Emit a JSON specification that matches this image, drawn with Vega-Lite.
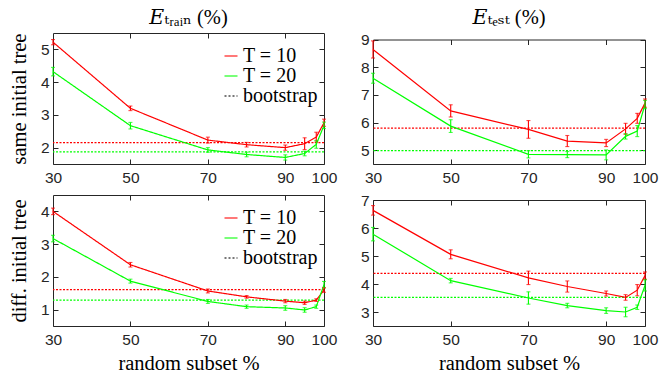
{
  "$schema": "https://vega.github.io/schema/vega-lite/v6.json",
  "padding": {"left": 8, "top": 7, "right": 2, "bottom": 0},
  "datasets": {
    "pts": [
      {"panel": "tl", "series": "T = 10", "x": 30, "v": 5.22, "e": 0.08},
      {"panel": "tl", "series": "T = 10", "x": 50, "v": 3.20, "e": 0.07},
      {"panel": "tl", "series": "T = 10", "x": 70, "v": 2.23, "e": 0.09},
      {"panel": "tl", "series": "T = 10", "x": 80, "v": 2.09, "e": 0.07},
      {"panel": "tl", "series": "T = 10", "x": 90, "v": 2.00, "e": 0.08},
      {"panel": "tl", "series": "T = 10", "x": 95, "v": 2.12, "e": 0.18},
      {"panel": "tl", "series": "T = 10", "x": 98, "v": 2.32, "e": 0.15},
      {"panel": "tl", "series": "T = 10", "x": 100, "v": 2.76, "e": 0.11},
      {"panel": "tl", "series": "T = 20", "x": 30, "v": 4.32, "e": 0.13},
      {"panel": "tl", "series": "T = 20", "x": 50, "v": 2.67, "e": 0.10},
      {"panel": "tl", "series": "T = 20", "x": 70, "v": 1.93, "e": 0.07},
      {"panel": "tl", "series": "T = 20", "x": 80, "v": 1.79, "e": 0.07},
      {"panel": "tl", "series": "T = 20", "x": 90, "v": 1.70, "e": 0.08},
      {"panel": "tl", "series": "T = 20", "x": 95, "v": 1.82, "e": 0.07},
      {"panel": "tl", "series": "T = 20", "x": 98, "v": 2.10, "e": 0.12},
      {"panel": "tl", "series": "T = 20", "x": 100, "v": 2.68, "e": 0.10},
      {"panel": "tr", "series": "T = 10", "x": 30, "v": 8.64, "e": 0.31},
      {"panel": "tr", "series": "T = 10", "x": 50, "v": 6.42, "e": 0.22},
      {"panel": "tr", "series": "T = 10", "x": 70, "v": 5.75, "e": 0.32},
      {"panel": "tr", "series": "T = 10", "x": 80, "v": 5.33, "e": 0.20},
      {"panel": "tr", "series": "T = 10", "x": 90, "v": 5.26, "e": 0.13},
      {"panel": "tr", "series": "T = 10", "x": 95, "v": 5.77, "e": 0.20},
      {"panel": "tr", "series": "T = 10", "x": 98, "v": 6.15, "e": 0.18},
      {"panel": "tr", "series": "T = 10", "x": 100, "v": 6.70, "e": 0.15},
      {"panel": "tr", "series": "T = 20", "x": 30, "v": 7.60, "e": 0.18},
      {"panel": "tr", "series": "T = 20", "x": 50, "v": 5.87, "e": 0.23},
      {"panel": "tr", "series": "T = 20", "x": 70, "v": 4.85, "e": 0.13},
      {"panel": "tr", "series": "T = 20", "x": 80, "v": 4.84, "e": 0.11},
      {"panel": "tr", "series": "T = 20", "x": 90, "v": 4.83, "e": 0.18},
      {"panel": "tr", "series": "T = 20", "x": 95, "v": 5.50, "e": 0.10},
      {"panel": "tr", "series": "T = 20", "x": 98, "v": 5.69, "e": 0.20},
      {"panel": "tr", "series": "T = 20", "x": 100, "v": 6.65, "e": 0.15},
      {"panel": "bl", "series": "T = 10", "x": 30, "v": 4.00, "e": 0.10},
      {"panel": "bl", "series": "T = 10", "x": 50, "v": 2.37, "e": 0.07},
      {"panel": "bl", "series": "T = 10", "x": 70, "v": 1.57, "e": 0.06},
      {"panel": "bl", "series": "T = 10", "x": 80, "v": 1.39, "e": 0.04},
      {"panel": "bl", "series": "T = 10", "x": 90, "v": 1.26, "e": 0.05},
      {"panel": "bl", "series": "T = 10", "x": 95, "v": 1.21, "e": 0.05},
      {"panel": "bl", "series": "T = 10", "x": 98, "v": 1.29, "e": 0.04},
      {"panel": "bl", "series": "T = 10", "x": 100, "v": 1.60, "e": 0.07},
      {"panel": "bl", "series": "T = 20", "x": 30, "v": 3.17, "e": 0.10},
      {"panel": "bl", "series": "T = 20", "x": 50, "v": 1.87, "e": 0.06},
      {"panel": "bl", "series": "T = 20", "x": 70, "v": 1.25, "e": 0.06},
      {"panel": "bl", "series": "T = 20", "x": 80, "v": 1.09, "e": 0.05},
      {"panel": "bl", "series": "T = 20", "x": 90, "v": 1.05, "e": 0.07},
      {"panel": "bl", "series": "T = 20", "x": 95, "v": 0.99, "e": 0.07},
      {"panel": "bl", "series": "T = 20", "x": 98, "v": 1.09, "e": 0.05},
      {"panel": "bl", "series": "T = 20", "x": 100, "v": 1.76, "e": 0.10},
      {"panel": "br", "series": "T = 10", "x": 30, "v": 6.63, "e": 0.17},
      {"panel": "br", "series": "T = 10", "x": 50, "v": 5.06, "e": 0.16},
      {"panel": "br", "series": "T = 10", "x": 70, "v": 4.22, "e": 0.24},
      {"panel": "br", "series": "T = 10", "x": 80, "v": 3.91, "e": 0.20},
      {"panel": "br", "series": "T = 10", "x": 90, "v": 3.66, "e": 0.09},
      {"panel": "br", "series": "T = 10", "x": 95, "v": 3.52, "e": 0.10},
      {"panel": "br", "series": "T = 10", "x": 98, "v": 3.78, "e": 0.20},
      {"panel": "br", "series": "T = 10", "x": 100, "v": 4.30, "e": 0.13},
      {"panel": "br", "series": "T = 20", "x": 30, "v": 5.78, "e": 0.24},
      {"panel": "br", "series": "T = 20", "x": 50, "v": 4.12, "e": 0.08},
      {"panel": "br", "series": "T = 20", "x": 70, "v": 3.50, "e": 0.22},
      {"panel": "br", "series": "T = 20", "x": 80, "v": 3.23, "e": 0.08},
      {"panel": "br", "series": "T = 20", "x": 90, "v": 3.05, "e": 0.10},
      {"panel": "br", "series": "T = 20", "x": 95, "v": 3.00, "e": 0.17},
      {"panel": "br", "series": "T = 20", "x": 98, "v": 3.17, "e": 0.08},
      {"panel": "br", "series": "T = 20", "x": 100, "v": 3.95, "e": 0.20}
    ],
    "boot": [
      {"panel": "tl", "series": "T = 10", "v": 2.15},
      {"panel": "tl", "series": "T = 20", "v": 1.87},
      {"panel": "tr", "series": "T = 10", "v": 5.80},
      {"panel": "tr", "series": "T = 20", "v": 4.98},
      {"panel": "bl", "series": "T = 10", "v": 1.61},
      {"panel": "bl", "series": "T = 20", "v": 1.29},
      {"panel": "br", "series": "T = 10", "v": 4.38},
      {"panel": "br", "series": "T = 20", "v": 3.52}
    ]
  },
  "columns": 2,
  "align": {"row": "each", "column": "all"},
  "spacing": {"row": 6, "column": 22},
  "concat": [
    {
      "width": 271, "height": 131,
      "title": {"text": "𝐸ₜᵣₐᵢₙ (%)", "offset": 4},
      "layer": [
        {"data": {"name": "boot"}, "transform": [{"filter": "datum.panel == 'tl' && datum.series == 'T = 10'"}],
         "mark": {"type": "rule", "color": "#ff0000", "stroke": "#ff0000", "strokeDash": [2, 1.5], "strokeWidth": 1.2, "opacity": 1},
         "encoding": {"y": {"field": "v", "type": "quantitative", "scale": {"domain": [1.5, 5.5]}, "axis": null}}},
        {"data": {"name": "boot"}, "transform": [{"filter": "datum.panel == 'tl' && datum.series == 'T = 20'"}],
         "mark": {"type": "rule", "color": "#00ff00", "stroke": "#00ff00", "strokeDash": [2, 1.5], "strokeWidth": 1.2, "opacity": 1},
         "encoding": {"y": {"field": "v", "type": "quantitative", "scale": {"domain": [1.5, 5.5]}, "axis": null}}},
        {"data": {"name": "pts"}, "transform": [{"filter": "datum.panel == 'tl'"}],
         "mark": {"type": "line", "strokeWidth": 1.2},
         "encoding": {
           "x": {"field": "x", "type": "quantitative", "scale": {"domain": [30, 100]}, "axis": {"values": [30, 50, 70, 90, 100], "title": null, "labelFlush": false, "labelAlign": "center", "labelOverlap": false}},
           "y": {"field": "v", "type": "quantitative", "scale": {"domain": [1.5, 5.5]}, "axis": {"values": [2, 3, 4, 5], "title": "same initial tree"}},
           "color": {"field": "series", "type": "nominal", "scale": {"domain": ["T = 10", "T = 20", "bootstrap"], "range": ["#ff0000", "#00ff00", "#000000"]}, "legend": {"orient": "none", "legendX": 168, "legendY": 13}},
           "strokeDash": {"field": "series", "type": "nominal", "scale": {"domain": ["T = 10", "T = 20", "bootstrap"], "range": [[1, 0], [1, 0], [2, 2]]}, "legend": {"orient": "none", "legendX": 168, "legendY": 13}}
         }},
        {"data": {"name": "pts"}, "transform": [{"filter": "datum.panel == 'tl'"}],
         "mark": {"type": "errorbar", "ticks": {"size": 4}, "thickness": 1.1},
         "encoding": {
           "x": {"field": "x", "type": "quantitative", "scale": {"domain": [30, 100]}, "axis": {"orient": "top", "values": [50, 70, 90], "labels": false, "title": null}},
           "y": {"field": "v", "type": "quantitative", "scale": {"domain": [1.5, 5.5]}, "axis": {"orient": "right", "values": [2, 3, 4, 5], "labels": false, "title": null}},
           "yError": {"field": "e"},
           "color": {"field": "series", "type": "nominal"}
         }}
      ],
      "resolve": {"axis": {"x": "independent", "y": "independent"}}
    },
    {
      "width": 272, "height": 131,
      "view": {"stroke": null},
      "title": {"text": "𝐸ₜₑₛₜ (%)", "offset": 4},
      "layer": [
        {"data": {"name": "boot"}, "transform": [{"filter": "datum.panel == 'tr' && datum.series == 'T = 10'"}],
         "mark": {"type": "rule", "color": "#ff0000", "stroke": "#ff0000", "strokeDash": [2, 1.5], "strokeWidth": 1.2, "opacity": 1},
         "encoding": {"y": {"field": "v", "type": "quantitative", "scale": {"domain": [4.5, 9], "range": [131, 6.5]}, "axis": null}}},
        {"data": {"name": "boot"}, "transform": [{"filter": "datum.panel == 'tr' && datum.series == 'T = 20'"}],
         "mark": {"type": "rule", "color": "#00ff00", "stroke": "#00ff00", "strokeDash": [2, 1.5], "strokeWidth": 1.2, "opacity": 1},
         "encoding": {"y": {"field": "v", "type": "quantitative", "scale": {"domain": [4.5, 9], "range": [131, 6.5]}, "axis": null}}},
        {"data": {"name": "pts"}, "transform": [{"filter": "datum.panel == 'tr'"}],
         "mark": {"type": "line", "strokeWidth": 1.2},
         "encoding": {
           "x": {"field": "x", "type": "quantitative", "scale": {"domain": [30, 100]}, "axis": {"values": [30, 50, 70, 90, 100], "title": null, "domain": true, "labelFlush": false, "labelAlign": "center", "labelOverlap": false}},
           "y": {"field": "v", "type": "quantitative", "scale": {"domain": [4.5, 9], "range": [131, 6.5]}, "axis": {"values": [5, 6, 7, 8, 9], "title": null, "domain": true}},
           "color": {"field": "series", "type": "nominal", "scale": {"domain": ["T = 10", "T = 20", "bootstrap"], "range": ["#ff0000", "#00ff00", "#000000"]}, "legend": null}
         }},
        {"data": {"name": "pts"}, "transform": [{"filter": "datum.panel == 'tr'"}],
         "mark": {"type": "errorbar", "ticks": {"size": 4}, "thickness": 1.1},
         "encoding": {
           "x": {"field": "x", "type": "quantitative", "scale": {"domain": [30, 100]}, "axis": {"orient": "top", "offset": -6.5, "values": [50, 70, 90], "labels": false, "title": null, "domain": true}},
           "y": {"field": "v", "type": "quantitative", "scale": {"domain": [4.5, 9], "range": [131, 6.5]}, "axis": {"orient": "right", "values": [5, 6, 7, 8, 9], "labels": false, "title": null, "domain": true}},
           "yError": {"field": "e"},
           "color": {"field": "series", "type": "nominal", "legend": null}
         }}
      ],
      "resolve": {"axis": {"x": "independent", "y": "independent"}}
    },
    {
      "width": 271, "height": 131,
      "layer": [
        {"data": {"name": "boot"}, "transform": [{"filter": "datum.panel == 'bl' && datum.series == 'T = 10'"}],
         "mark": {"type": "rule", "color": "#ff0000", "stroke": "#ff0000", "strokeDash": [2, 1.5], "strokeWidth": 1.2, "opacity": 1},
         "encoding": {"y": {"field": "v", "type": "quantitative", "scale": {"domain": [0.5, 4.5]}, "axis": null}}},
        {"data": {"name": "boot"}, "transform": [{"filter": "datum.panel == 'bl' && datum.series == 'T = 20'"}],
         "mark": {"type": "rule", "color": "#00ff00", "stroke": "#00ff00", "strokeDash": [2, 1.5], "strokeWidth": 1.2, "opacity": 1},
         "encoding": {"y": {"field": "v", "type": "quantitative", "scale": {"domain": [0.5, 4.5]}, "axis": null}}},
        {"data": {"name": "pts"}, "transform": [{"filter": "datum.panel == 'bl'"}],
         "mark": {"type": "line", "strokeWidth": 1.2},
         "encoding": {
           "x": {"field": "x", "type": "quantitative", "scale": {"domain": [30, 100]}, "axis": {"values": [30, 50, 70, 90, 100], "title": "random subset %", "labelFlush": false, "labelAlign": "center", "labelOverlap": false}},
           "y": {"field": "v", "type": "quantitative", "scale": {"domain": [0.5, 4.5]}, "axis": {"values": [1, 2, 3, 4], "title": "diff. initial tree"}},
           "color": {"field": "series", "type": "nominal", "scale": {"domain": ["T = 10", "T = 20", "bootstrap"], "range": ["#ff0000", "#00ff00", "#000000"]}, "legend": {"orient": "none", "legendX": 168, "legendY": 13}},
           "strokeDash": {"field": "series", "type": "nominal", "scale": {"domain": ["T = 10", "T = 20", "bootstrap"], "range": [[1, 0], [1, 0], [2, 2]]}, "legend": {"orient": "none", "legendX": 168, "legendY": 13}}
         }},
        {"data": {"name": "pts"}, "transform": [{"filter": "datum.panel == 'bl'"}],
         "mark": {"type": "errorbar", "ticks": {"size": 4}, "thickness": 1.1},
         "encoding": {
           "x": {"field": "x", "type": "quantitative", "scale": {"domain": [30, 100]}, "axis": {"orient": "top", "values": [50, 70, 90], "labels": false, "title": null}},
           "y": {"field": "v", "type": "quantitative", "scale": {"domain": [0.5, 4.5]}, "axis": {"orient": "right", "values": [1, 2, 3, 4], "labels": false, "title": null}},
           "yError": {"field": "e"},
           "color": {"field": "series", "type": "nominal"}
         }}
      ],
      "resolve": {"axis": {"x": "independent", "y": "independent"}}
    },
    {
      "width": 272, "height": 131,
      "view": {"stroke": null},
      "layer": [
        {"data": {"name": "boot"}, "transform": [{"filter": "datum.panel == 'br' && datum.series == 'T = 10'"}],
         "mark": {"type": "rule", "color": "#ff0000", "stroke": "#ff0000", "strokeDash": [2, 1.5], "strokeWidth": 1.2, "opacity": 1},
         "encoding": {"y": {"field": "v", "type": "quantitative", "scale": {"domain": [2.5, 7], "range": [131, 5]}, "axis": null}}},
        {"data": {"name": "boot"}, "transform": [{"filter": "datum.panel == 'br' && datum.series == 'T = 20'"}],
         "mark": {"type": "rule", "color": "#00ff00", "stroke": "#00ff00", "strokeDash": [2, 1.5], "strokeWidth": 1.2, "opacity": 1},
         "encoding": {"y": {"field": "v", "type": "quantitative", "scale": {"domain": [2.5, 7], "range": [131, 5]}, "axis": null}}},
        {"data": {"name": "pts"}, "transform": [{"filter": "datum.panel == 'br'"}],
         "mark": {"type": "line", "strokeWidth": 1.2},
         "encoding": {
           "x": {"field": "x", "type": "quantitative", "scale": {"domain": [30, 100]}, "axis": {"values": [30, 50, 70, 90, 100], "title": "random subset %", "domain": true, "labelFlush": false, "labelAlign": "center", "labelOverlap": false}},
           "y": {"field": "v", "type": "quantitative", "scale": {"domain": [2.5, 7], "range": [131, 5]}, "axis": {"values": [3, 4, 5, 6, 7], "title": null, "domain": true}},
           "color": {"field": "series", "type": "nominal", "scale": {"domain": ["T = 10", "T = 20", "bootstrap"], "range": ["#ff0000", "#00ff00", "#000000"]}, "legend": null}
         }},
        {"data": {"name": "pts"}, "transform": [{"filter": "datum.panel == 'br'"}],
         "mark": {"type": "errorbar", "ticks": {"size": 4}, "thickness": 1.1},
         "encoding": {
           "x": {"field": "x", "type": "quantitative", "scale": {"domain": [30, 100]}, "axis": {"orient": "top", "offset": -5, "values": [50, 70, 90], "labels": false, "title": null, "domain": true}},
           "y": {"field": "v", "type": "quantitative", "scale": {"domain": [2.5, 7], "range": [131, 5]}, "axis": {"orient": "right", "values": [3, 4, 5, 6, 7], "labels": false, "title": null, "domain": true}},
           "yError": {"field": "e"},
           "color": {"field": "series", "type": "nominal", "legend": null}
         }}
      ],
      "resolve": {"axis": {"x": "independent", "y": "independent"}}
    }
  ],
  "resolve": {
    "scale": {"color": "independent", "strokeDash": "independent", "x": "independent", "y": "independent"},
    "legend": {"color": "independent", "strokeDash": "independent"}
  },
  "config": {
    "view": {"stroke": "#262626", "strokeWidth": 1},
    "axis": {
      "domain": false, "domainColor": "#262626", "domainWidth": 1, "grid": false, "labelFlush": false,
      "ticks": true, "tickSize": -5, "tickColor": "#262626", "tickWidth": 1,
      "labelFont": "Liberation Sans", "labelFontSize": 15.5, "labelColor": "#262626",
      "titleFont": "Liberation Serif, DejaVu Serif", "titleFontSize": 20.5, "titleFontWeight": "normal", "titleColor": "#000000"
    },
    "axisY": {"titlePadding": 11, "labelPadding": 9},
    "axisX": {"titlePadding": 5, "labelPadding": 11.5},
    "title": {"font": "Liberation Serif, DejaVu Serif", "fontSize": 20.5, "fontWeight": "normal", "color": "#000000"},
    "legend": {
      "title": null, "symbolType": "stroke", "symbolSize": 169, "symbolStrokeWidth": 1.3,
      "labelFont": "Liberation Serif, DejaVu Serif", "labelFontSize": 20, "labelColor": "#000000",
      "rowPadding": -3.5, "padding": 0, "labelOffset": 2,
      "labelExpr": "replace(datum.label, 'T', '𝑇')"
    }
  }
}
